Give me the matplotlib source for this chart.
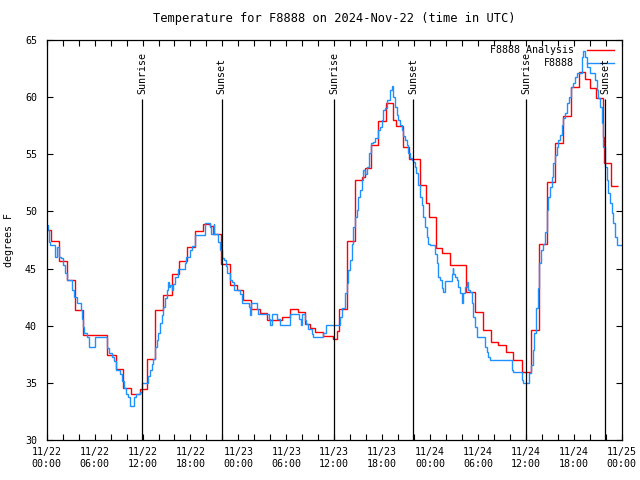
import matplotlib
matplotlib.use("Agg")
import matplotlib.pyplot as plt
import pandas as pd

# hours since 2024-11-22 00:00 UTC, value holds until the next time
red_t = [0.0, 0.55, 1.5, 2.5, 3.55, 4.5, 7.5, 8.65, 9.5, 10.55,
         11.65, 12.5, 13.55, 14.6, 15.7, 16.6, 17.6, 18.6, 19.6, 20.5,
         20.8, 21.8, 22.9, 23.8, 24.6, 25.6, 26.7, 27.6, 29.4, 30.5,
         31.5, 32.4, 33.0, 33.6, 34.6, 35.8, 36.4, 36.6, 37.6, 38.6,
         39.45, 39.9, 40.6, 41.5, 42.5, 43.4, 43.7, 44.65, 45.4, 46.7,
         47.5, 47.9, 48.7, 49.5, 50.5, 52.5, 53.6, 54.6, 55.6, 56.5,
         57.5, 58.4, 59.5, 60.6, 61.6, 62.6, 63.6, 64.7, 65.6, 66.6,
         67.4, 68.0, 68.8, 69.6, 69.8, 70.6]
red_v = [48.4, 47.4, 45.7, 44.0, 41.4, 39.2, 37.5, 36.2, 34.55, 34.1,
         34.5, 37.1, 41.4, 42.7, 44.5, 45.65, 46.9, 48.3, 48.9, 48.7,
         48.0, 45.4, 43.6, 43.1, 42.3, 41.5, 41.15, 40.5, 40.8, 41.45,
         41.2, 40.2, 39.85, 39.5, 39.1, 38.9, 39.6, 41.45, 47.4, 52.75,
         53.0, 53.8, 55.8, 57.9, 59.5, 58.0, 57.5, 55.6, 54.6, 52.3,
         50.7, 49.5, 46.8, 46.35, 45.3, 43.0, 41.25, 39.65, 38.6, 38.3,
         37.7, 37.0, 36.0, 39.65, 47.15, 52.55, 56.0, 58.3, 60.85, 62.2,
         61.6, 60.75, 59.95, 56.5, 54.25, 52.25]
red_end = 71.5

blue_t = [0.0, 0.12, 0.29, 0.41, 1.04, 1.25, 1.6, 1.79, 2.08, 2.29,
          2.5, 3.13, 3.46, 3.75, 4.3, 4.45, 4.6, 4.71, 5.0, 5.3,
          6.05, 7.5, 7.8, 8.13, 8.43, 8.64, 9.18, 9.47, 9.68, 9.93,
          10.22, 10.43, 10.97, 11.14, 11.68, 11.89, 12.73, 12.93, 13.14, 13.35,
          13.56, 13.77, 13.98, 14.19, 14.4, 14.6, 14.81, 15.0, 15.2, 15.3,
          15.4, 15.65, 15.86, 16.07, 16.5, 17.3, 17.5, 17.95, 18.15, 18.57,
          19.8, 20.5, 20.6, 20.9, 21.0, 21.5, 21.7, 21.95, 22.2, 22.4,
          22.6, 23.0, 23.2, 23.5, 24.25, 24.5, 25.3, 25.45, 25.6, 26.3,
          26.5, 27.8, 28.0, 28.2, 28.8, 29.2, 30.5, 31.6, 31.8, 32.0,
          32.3, 32.5, 32.75, 33.2, 33.3, 34.6, 35.0, 36.7, 36.93, 37.35,
          37.56, 37.77, 37.98, 38.2, 38.4, 38.6, 38.81, 39.0, 39.23, 39.44,
          39.65, 39.86, 40.15, 40.36, 40.57, 40.82, 41.1, 41.52, 41.73, 41.94,
          42.15, 42.36, 42.57, 42.99, 43.2, 43.4, 43.6, 43.82, 44.03, 44.24,
          44.44, 44.65, 44.86, 45.07, 45.28, 45.49, 45.7, 45.9, 46.1, 46.3,
          46.53, 46.74, 46.95, 47.16, 47.37, 47.58, 47.8, 48.0, 48.6, 48.83,
          49.04, 49.25, 49.46, 49.67, 49.88, 50.71, 50.84, 50.9, 51.1, 51.34,
          51.55, 51.75, 51.96, 52.17, 52.38, 52.59, 52.8, 53.0, 53.21, 53.42,
          53.63, 53.84, 54.88, 55.09, 55.3, 55.51, 58.22, 58.43, 59.47, 59.68,
          60.44, 60.64, 60.85, 61.06, 61.27, 61.48, 61.69, 61.9, 62.1, 62.4,
          62.61, 62.82, 63.02, 63.23, 63.44, 63.65, 63.86, 64.07, 64.28, 64.49,
          64.69, 64.9, 65.2, 65.45, 65.66, 65.87, 66.16, 66.37, 67.0, 67.2,
          67.41, 67.62, 68.04, 68.66, 68.87, 69.08, 69.29, 69.5, 69.7, 69.91,
          70.12, 70.33, 70.54, 70.75, 70.96, 71.17, 71.38]
blue_v = [48.8, 48.4, 47.35, 47.05, 46.05, 46.9, 46.05, 45.9, 45.3, 44.6,
          44.0, 43.15, 42.5, 42.0, 41.4, 40.6, 39.9, 39.35, 39.05, 38.2,
          39.05, 38.05, 37.6, 37.3, 36.9, 36.15, 35.8, 35.2, 34.55, 34.1,
          33.8, 33.0, 33.8, 34.05, 34.25, 35.0, 35.6, 36.15, 36.7, 37.1,
          38.2, 38.8, 39.4, 40.3, 41.0, 41.7, 42.4, 43.15, 43.8, 43.4,
          43.6, 43.15, 43.7, 44.3, 45.0, 45.5, 46.0, 46.6, 47.0, 47.95,
          49.0, 48.6, 48.0, 48.9, 48.0, 47.3, 46.6, 45.9, 45.75, 45.2,
          44.6, 44.0, 43.8, 43.1, 42.8, 42.05, 41.7, 41.0, 42.0, 41.5,
          41.05, 40.6, 40.1, 41.05, 40.6, 40.1, 41.05, 40.6, 40.1, 41.05,
          40.5, 40.2, 39.7, 39.3, 39.05, 39.35, 40.08, 40.8, 41.54, 42.85,
          43.73, 44.9, 45.75, 47.2, 48.67, 49.55, 50.1, 51.3, 51.87, 52.75,
          53.6, 53.3, 53.9, 55.1, 55.95, 56.1, 56.4, 57.1, 57.4, 58.0,
          58.86, 59.0, 59.7, 60.6, 60.96, 60.0, 59.15, 58.4, 58.0, 57.55,
          57.1, 56.6, 56.24, 55.8, 55.1, 54.64, 54.5, 54.35, 53.9, 53.33,
          52.3, 51.3, 50.56, 49.55, 48.67, 47.8, 47.2, 47.07, 46.3, 45.47,
          44.3, 44.0, 43.3, 43.0, 43.95, 44.54, 45.03, 44.54, 44.3, 44.0,
          43.43, 42.85, 41.98, 42.85, 43.43, 43.87, 43.14, 42.94, 41.98, 40.8,
          39.93, 39.06, 38.19, 37.75, 37.3, 37.03, 36.15, 36.0, 35.28, 35.05,
          35.86, 36.6, 37.9, 39.35, 41.54, 43.3, 45.47, 46.63, 47.2, 48.2,
          50.13, 51.3, 52.16, 53.04, 54.2, 54.93, 55.66, 56.24, 56.68, 57.55,
          58.13, 58.57, 59.44, 60.0, 60.9, 61.19, 61.77, 62.06, 63.5, 64.04,
          63.5, 62.64, 62.06, 61.48, 60.6, 59.88, 59.15, 57.7, 55.66, 53.9,
          52.75, 51.58, 50.7, 49.84, 48.96, 47.8, 47.07]
blue_end = 72.0

sunrise = [11.97, 36.0, 60.03]
sunset = [21.9, 45.9, 69.95]

start = pd.Timestamp("2024-11-22 00:00")
major_hours = list(range(0, 73, 6))
minor_hours = list(range(0, 73, 2))

plt.rcParams["font.family"] = ["DejaVu Sans Mono"]
plt.rcParams["font.size"] = 7.2

fig = plt.figure(figsize=(6.4, 4.8), dpi=100)
ax = fig.add_axes([0.073, 0.0823, 0.8984, 0.835])

ax.stairs(red_v, red_t + [red_end], baseline=None, color="#ff0000", lw=1.0)
ax.stairs(blue_v, blue_t + [blue_end], baseline=None, color="#1e90ff", lw=1.0)

ax.vlines(sunrise + sunset, 30, 59.8, color="black", lw=0.9)
for h in sunrise:
    ax.text(h, 60.3, "Sunrise", rotation=90, ha="center", va="bottom")
for h in sunset:
    ax.text(h, 60.3, "Sunset", rotation=90, ha="center", va="bottom")

ax.set_xlim(0, 72)
ax.set_ylim(30, 65)
ax.set_xticks(major_hours)
ax.set_xticks(minor_hours, minor=True)
ax.set_xticklabels([(start + pd.Timedelta(hours=h)).strftime("%m/%d\n%H:%M") for h in major_hours])
ax.set_yticks(range(30, 66, 5))
ax.tick_params(which="both", direction="in", top=True, right=True, length=4, width=0.8)
ax.tick_params(axis="x", pad=5)
ax.tick_params(axis="y", pad=7)
for s in ax.spines.values():
    s.set_linewidth(0.9)

ax.set_ylabel("degrees F", labelpad=8)
ax.set_title("Temperature for F8888 on 2024-Nov-22 (time in UTC)", pad=13)

# key, gnuplot style: text right of the sample line
ax.text(0.917, 0.974, "F8888 Analysis", transform=ax.transAxes, ha="right", va="center")
ax.plot([0.939, 0.987], [0.974, 0.974], transform=ax.transAxes, color="#ff0000", lw=1.0)
ax.text(0.917, 0.943, "F8888", transform=ax.transAxes, ha="right", va="center")
ax.plot([0.939, 0.987], [0.943, 0.943], transform=ax.transAxes, color="#1e90ff", lw=1.0)

fig.savefig("out.png", dpi=100)
